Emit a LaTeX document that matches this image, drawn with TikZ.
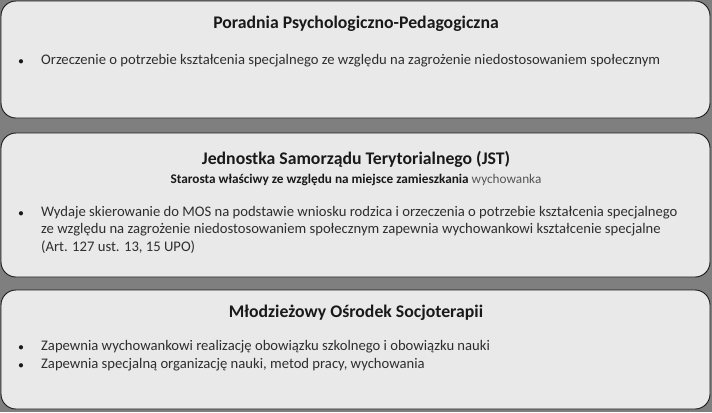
\documentclass[tikz,border=0pt]{standalone}
\usepackage{fontspec}
\setmainfont{Carlito}
\usetikzlibrary{positioning}
\definecolor{bggray}{HTML}{7F7F7F}
\definecolor{panelfill}{HTML}{E9E9E9}
\definecolor{inkgray}{HTML}{2E2E2E}
\definecolor{softgray}{HTML}{555555}
\begin{document}
\begin{tikzpicture}[x=1bp, y=-1bp, inner sep=0pt, text=inkgray,
   panel/.style={draw=black!90, line width=0.9bp, rounded corners=15bp, fill=panelfill},
   title/.style={anchor=base, font=\fontsize{17.8}{21}\selectfont\bfseries, text=black!90},
   subtitle/.style={anchor=base, font=\fontsize{13.3}{16}\selectfont, text=black!90},
   dot/.style={anchor=base, font=\fontsize{10.5}{17}\selectfont, text=black!90},
   item/.style={anchor=base west, align=left, font=\fontsize{14.7}{17.5}\selectfont}
   ]

   % background
   \fill[bggray] (0,0) rectangle (712,412);

   % panels
   \draw[panel] (1,1) rectangle (710,118);
   \draw[panel] (1,133) rectangle (710,277);
   \draw[panel] (1,290) rectangle (710,409);

   % Poradnia
   \path (356,28) node[title] (ppp) {Poradnia Psychologiczno-Pedagogiczna};
   \path (21,64) node[dot] (d1) {$\bullet$}
   (41,64) node[item] (i1) {Orzeczenie o potrzebie kształcenia specjalnego ze względu na zagrożenie niedostosowaniem społecznym};

   % JST (item node sits on its last line)
   \path (356,164) node[title] (jst) {Jednostka Samorządu Terytorialnego (JST)};
   \path (356,183) node[subtitle] (st) {\textbf{Starosta właściwy ze względu na miejsce zamieszkania} \textcolor{softgray}{wychowanka}};
   \path (21,216) node[dot] (d2) {$\bullet$}
   (41,251) node[item] (i2) {Wydaje skierowanie do MOS na podstawie wniosku rodzica i orzeczenia o potrzebie kształcenia specjalnego\\
   ze względu na zagrożenie niedostosowaniem społecznym zapewnia wychowankowi kształcenie specjalne\\
   (Art. 127 ust. 13, 15 UPO)};

   % MOS
   \path (356,317) node[title] (mos) {Młodzieżowy Ośrodek Socjoterapii};
   \path (21,350) node[dot] (d3) {$\bullet$}
   (41,350) node[item] (i3) {Zapewnia wychowankowi realizację obowiązku szkolnego i obowiązku nauki};
   \path (21,368) node[dot] (d4) {$\bullet$}
   (41,368) node[item] (i4) {Zapewnia specjalną organizację nauki, metod pracy, wychowania};

\end{tikzpicture}
\end{document}
